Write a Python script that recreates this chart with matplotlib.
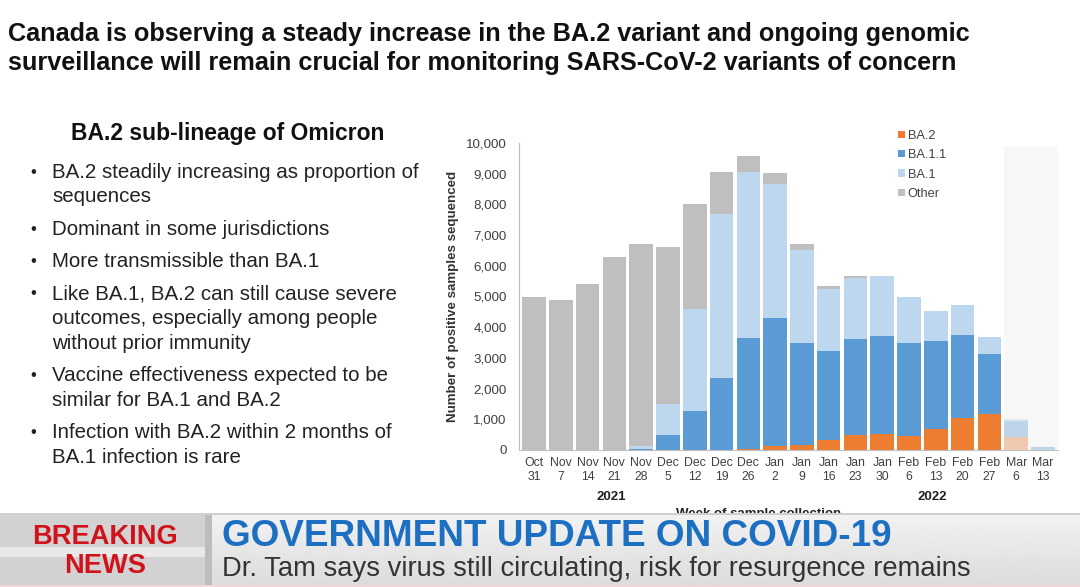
import matplotlib

matplotlib.use("Agg")

import matplotlib.pyplot as plt
from matplotlib.patches import Rectangle
import numpy as np

weeks = ["Oct\n31", "Nov\n7", "Nov\n14", "Nov\n21", "Nov\n28", "Dec\n5", "Dec\n12",
         "Dec\n19", "Dec\n26", "Jan\n2", "Jan\n9", "Jan\n16", "Jan\n23", "Jan\n30",
         "Feb\n6", "Feb\n13", "Feb\n20", "Feb\n27", "Mar\n6", "Mar\n13"]
ba2 = [0, 0, 0, 0, 0, 0, 0, 0, 30, 130, 160, 330, 490, 530, 460, 680, 1040, 1170, 430, 0]
ba11 = [0, 0, 0, 0, 20, 480, 1260, 2350, 3610, 4170, 3310, 2880, 3120, 3190, 3010, 2860, 2710, 1950, 500, 100]
ba1 = [0, 0, 0, 0, 110, 1020, 3320, 5350, 5420, 4350, 3060, 2040, 2000, 1950, 1510, 990, 980, 570, 80, 0]
other = [5000, 4900, 5400, 6300, 6570, 5100, 3420, 1370, 530, 380, 170, 90, 60, 0, 0, 0, 0, 0, 0, 0]

series = [("BA.2", ba2, "#ed7d31"), ("BA.1.1", ba11, "#5b9bd5"),
          ("BA.1", ba1, "#bdd7ee"), ("Other", other, "#bfbfbf")]

bullets = [
    "BA.2 steadily increasing as proportion of\nsequences",
    "Dominant in some jurisdictions",
    "More transmissible than BA.1",
    "Like BA.1, BA.2 can still cause severe\noutcomes, especially among people\nwithout prior immunity",
    "Vaccine effectiveness expected to be\nsimilar for BA.1 and BA.2",
    "Infection with BA.2 within 2 months of\nBA.1 infection is rare",
]

W, H = 1080, 587
NARROW = ["Liberation Sans Narrow", "Liberation Sans"]
SANS = ["Liberation Sans", "DejaVu Sans"]


def fy(py):
    return 1 - py / H


def fit_width(fig, txt, width_px):
    renderer = fig.canvas.get_renderer()
    w = txt.get_window_extent(renderer).width
    txt.set_fontsize(txt.get_fontsize() * width_px / w)


fig = plt.figure(figsize=(W / 100, H / 100), dpi=100)
fig.patch.set_facecolor("white")

# headline
t1 = fig.text(8 / W, fy(34), "Canada is observing a steady increase in the BA.2 variant and ongoing genomic",
              family=NARROW, weight="bold", fontsize=20, color="#111111", va="center")
t2 = fig.text(8 / W, fy(63), "surveillance will remain crucial for monitoring SARS-CoV-2 variants of concern",
              family=NARROW, weight="bold", fontsize=20, color="#111111", va="center")
fit_width(fig, t1, 962)
t2.set_fontsize(t1.get_fontsize())

# left text panel
head = fig.text(228 / W, fy(133), "BA.2 sub-lineage of Omicron", family=SANS, weight="bold",
                fontsize=16, color="#111111", ha="center", va="center")
fit_width(fig, head, 313)
y = 172
for item in bullets:
    fig.text(30 / W, fy(y), "\u2022", family=SANS, fontsize=12, color="#222222", va="center")
    lines = item.split("\n")
    for k, line in enumerate(lines):
        fig.text(52 / W, fy(y + 24.8 * k), line, family=SANS, fontsize=14.8, color="#222222", va="center")
    y += 24.8 * len(lines) + 7.5

# stacked bar chart
ax = fig.add_axes([519 / W, fy(450), (1058 - 519) / W, (450 - 143) / H])
x = np.arange(len(weeks))
bottom = np.zeros(len(weeks))
handles = []
for name, values, color in series:
    b = ax.bar(x, values, width=0.88, bottom=bottom, color=color, label=name, zorder=2)
    handles.append(b)
    bottom += np.array(values)

ax.axvspan(17.55, 19.6, ymin=0, ymax=0.99, color="#f3f3f3", alpha=0.66, lw=0, zorder=3)
ax.set_xlim(-0.56, 19.56)
ax.set_ylim(0, 10000)
ax.set_yticks(np.arange(0, 10001, 1000))
ax.set_yticklabels([f"{v:,}" for v in range(0, 10001, 1000)], family=SANS, fontsize=9.6, color="#404040")
ax.set_xticks(x)
ax.set_xticklabels(weeks, family=SANS, fontsize=8.8, color="#404040", linespacing=1.25)
ax.tick_params(axis="both", length=0, pad=5)
ax.tick_params(axis="y", pad=9)
for side in ["top", "right"]:
    ax.spines[side].set_visible(False)
for side in ["left", "bottom"]:
    ax.spines[side].set_color("#bfbfbf")
ax.set_ylabel("Number of positive samples sequenced", family=SANS, weight="bold",
              fontsize=9.6, color="#333333", labelpad=5)

xt = ax.get_xaxis_transform()
ax.text(2.87, -0.152, "2021", transform=xt, family=SANS, weight="bold", fontsize=9.5,
        color="#222222", ha="center", va="center")
ax.text(14.85, -0.152, "2022", transform=xt, family=SANS, weight="bold", fontsize=9.5,
        color="#222222", ha="center", va="center")
ax.text(8.4, -0.208, "Week of sample collection", transform=xt, family=SANS, weight="bold",
        fontsize=9.5, color="#222222", ha="center", va="center")

leg = ax.legend(handles=handles, loc="upper left", bbox_to_anchor=(0.694, 1.06), frameon=False,
                prop={"family": SANS, "size": 9.2}, handlelength=0.5, handleheight=0.5,
                handletextpad=0.25, labelspacing=0.58, borderaxespad=0)
for t in leg.get_texts():
    t.set_color("#404040")

# news banner
bn = fig.add_axes([0, 0, 1, 74 / H], zorder=10)
bn.axis("off")
grad = np.linspace(0.86, 0.95, 64).reshape(-1, 1)
bn.imshow(grad, extent=(0, W, 0, 74), cmap="gray", vmin=0, vmax=1, aspect="auto", origin="lower")
bn.add_patch(Rectangle((0, 0), 205, 74, color="#d2d2d2", lw=0))
bn.add_patch(Rectangle((0, 30), 205, 10, color="#e8e8e8", lw=0))
bn.add_patch(Rectangle((205, 0), 7, 74, color="#bdbdbd", lw=0))
bn.add_patch(Rectangle((0, 72), W, 2, color="#cfcfcf", lw=0))
bn.add_patch(Rectangle((0, 0), W, 2, color="#f3d6dc", lw=0))
bn.set_xlim(0, W)
bn.set_ylim(0, 74)

b1 = bn.text(105, 50, "BREAKING", family=NARROW, weight="bold", fontsize=24,
             color="#d0121b", ha="center", va="center")
fit_width(fig, b1, 146)
bn.text(105, 21, "NEWS", family=NARROW, weight="bold", fontsize=b1.get_fontsize(),
        color="#d0121b", ha="center", va="center")
g = bn.text(222, 51, "GOVERNMENT UPDATE ON COVID-19", family=NARROW, weight="bold",
            fontsize=30, color="#1d6fc2", va="center")
fit_width(fig, g, 668)
d = bn.text(222, 18, "Dr. Tam says virus still circulating, risk for resurgence remains",
            family=NARROW, fontsize=20, color="#333333", va="center")
fit_width(fig, d, 746)

fig.savefig("out.png", dpi=100, facecolor="white")
